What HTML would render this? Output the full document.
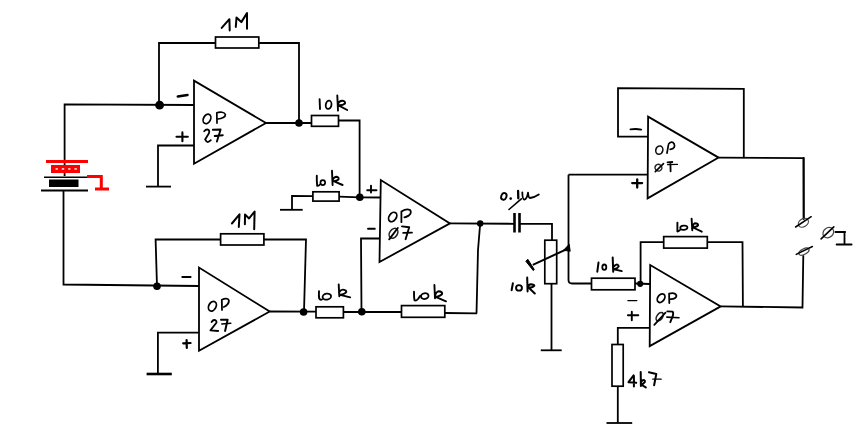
<!DOCTYPE html>
<html><head><meta charset="utf-8"><style>
html,body{margin:0;padding:0;background:#fff;width:856px;height:437px;overflow:hidden}
svg{display:block}
</style></head><body>
<svg width="856" height="437" viewBox="0 0 856 437"><g fill="none" stroke="#000">
<path d="M64.6,176 L64.6,104.3 L194,105" stroke-width="1.8" />
<path d="M63.5,191 L63.5,284.5 L199,286" stroke-width="1.8" />
<rect x="46" y="160" width="42" height="3" fill="#f00" stroke="none"/>
<rect x="51" y="165" width="29" height="8" fill="#f00" stroke="none"/>
<rect x="55.5" y="168.2" width="2.4" height="1.5" fill="#eee" stroke="none"/>
<rect x="61.8" y="168.2" width="2.4" height="1.5" fill="#eee" stroke="none"/>
<rect x="68.1" y="168.2" width="2.4" height="1.5" fill="#eee" stroke="none"/>
<rect x="74.4" y="168.2" width="2.4" height="1.5" fill="#eee" stroke="none"/>
<path d="M44,177.2 L88,177.2" stroke-width="1.6" />
<rect x="49" y="179.5" width="29.5" height="7.5" fill="#000" stroke="none"/>
<path d="M41,190.5 L88,190.5" stroke-width="1.8" />
<path d="M87,176.6 L101.3,176.6 L101.3,189 M95,189 L109,189" stroke="#f00" stroke-width="3" fill="none"/>
<circle cx="159.6" cy="105.2" r="4.4" fill="#000" stroke="none"/>
<path d="M159,105 L159,43 L215.5,43" stroke-width="1.8" />
<rect x="215.5" y="37" width="43.30000000000001" height="11" stroke-width="1.7"/>
<path d="M258.8,43 L299,43 L299,123" stroke-width="1.8" />
<path d="M194,80.6 L194,163.7 L266,123 Z" stroke-width="1.8" />
<path d="M266,123 L311.5,123" stroke-width="1.8" />
<circle cx="299" cy="123" r="3.8" fill="#000" stroke="none"/>
<rect x="311.5" y="115.5" width="27.0" height="10.799999999999997" stroke-width="1.7"/>
<path d="M338.5,120.5 L359.6,120.5 L359.6,197.5" stroke-width="1.8" />
<path d="M194,145.5 L158,145.5 L158,186.6" stroke-width="1.8" />
<path d="M146,186.6 L171,186.6" stroke-width="1.8" />
<circle cx="157" cy="286.2" r="3.8" fill="#000" stroke="none"/>
<path d="M157,286 L155.6,239.5 L220.6,239.5" stroke-width="1.8" />
<rect x="220.6" y="233.8" width="43.29999999999998" height="11.199999999999989" stroke-width="1.7"/>
<path d="M263.9,239.5 L306,239.5 L304,311.7" stroke-width="1.8" />
<path d="M199,267.5 L199,350.7 L269.7,311.5 Z" stroke-width="1.8" />
<path d="M269.7,311.5 L316,311.7" stroke-width="1.8" />
<circle cx="303.6" cy="312" r="3.8" fill="#000" stroke="none"/>
<rect x="316" y="306.8" width="27.399999999999977" height="11.0" stroke-width="1.7"/>
<path d="M343.4,312 L401.5,312" stroke-width="1.8" />
<circle cx="361.8" cy="311.7" r="3.8" fill="#000" stroke="none"/>
<rect x="401.5" y="305.6" width="43.30000000000001" height="11.699999999999989" stroke-width="1.7"/>
<path d="M444.8,313 L477,313.4" stroke-width="1.8" />
<path d="M476.5,313.4 L478,250 L480.2,223.5" stroke-width="1.8" />
<path d="M199,332.6 L157.9,332.6 L157.9,374" stroke-width="1.8" />
<path d="M146.6,374 L171.8,374" stroke-width="2.6" />
<path d="M380.8,180 L379.5,262 L450,223.4 Z" stroke-width="1.8" />
<path d="M292,209.8 L292,196 L312.9,196.2" stroke-width="1.8" />
<path d="M280,209.8 L302.7,209.8" stroke-width="1.8" />
<rect x="312.9" y="191.8" width="26.200000000000045" height="9.299999999999983" stroke-width="1.7"/>
<path d="M339.1,196.7 L359.8,197.3 L380.8,197.5" stroke-width="1.8" />
<circle cx="359.8" cy="197.3" r="3.8" fill="#000" stroke="none"/>
<path d="M380,238.5 L361,238.5 L361.5,311.7" stroke-width="1.8" />
<path d="M450,223.4 L514.5,223.8" stroke-width="1.8" />
<circle cx="480.2" cy="223.5" r="3.2" fill="#000" stroke="none"/>
<path d="M514.5,213 L514.5,232.5" stroke-width="2.6" />
<path d="M519.5,213 L519.5,232.5" stroke-width="2.6" />
<path d="M519.5,223.8 L552,223.8 L552,240" stroke-width="1.8" />
<rect x="544.8" y="240.2" width="11.900000000000091" height="43.5" stroke-width="1.7"/>
<path d="M551.5,283.7 L551.5,350.3" stroke-width="1.8" />
<path d="M540.8,350.3 L561.7,350.3" stroke-width="1.8" />
<path d="M532.8,264.8 L568.5,248.4" stroke-width="2.0" />
<path d="M525.8,261.2 L527.8,259.2 L534.3,269.6 L533.3,270.6 Z" fill="#000" stroke="#000" stroke-width="1"/>
<path d="M563.5,250.3 L569.2,244.3 L570.2,251.2 Z" fill="#000" stroke="#000" stroke-width="1"/>
<path d="M568.5,174.7 L568.5,280 Q568.5,283.5 572,283.5 L591.5,283.5" stroke-width="1.8" />
<path d="M648.1,116.6 L647.6,198.4 L718.6,157.6 Z" stroke-width="1.8" />
<path d="M648,136.7 L618,136.7 L618,88.1 L743.8,88.9 L743.8,157.6" stroke-width="1.8" />
<path d="M568.5,174.7 L648,174.7" stroke-width="1.8" />
<path d="M718.6,157.6 L803.5,158.2 L803.7,219.2" stroke-width="1.8" />
<path d="M650.2,265 L649.7,346.1 L720.7,306.4 Z" stroke-width="1.8" />
<rect x="591.5" y="278.2" width="43.5" height="11.600000000000023" stroke-width="1.7"/>
<path d="M635,283.5 L650,284" stroke-width="1.8" />
<circle cx="640.2" cy="283.8" r="3.1" fill="#000" stroke="none"/>
<path d="M640.6,283.5 L640.6,242.2 L663.7,242.2" stroke-width="1.8" />
<rect x="663.7" y="236.6" width="43.59999999999991" height="11.5" stroke-width="1.7"/>
<path d="M707.3,242.2 L742.5,242.2 L742.9,306.4" stroke-width="1.8" />
<path d="M720.7,306.4 L802.5,307.5 L803.3,255.3" stroke-width="1.8" />
<path d="M649,327.8 L617.8,327.8 L617.8,344.5" stroke-width="1.8" />
<rect x="612" y="344.5" width="11.200000000000045" height="41.69999999999999" stroke-width="1.7"/>
<path d="M617.8,386.2 L617.8,423" stroke-width="1.8" />
<path d="M606.5,423 L632.2,423" stroke-width="1.8" />
<path d="M221.7,27.9 L229.4,19.2 L229.7,30.4" stroke-width="2.0" stroke-linecap="round" stroke-linejoin="round"/>
<path d="M235.8,26.9 L236.5,17.6 L241.3,22.1 L247,13.1 L247,28.8" stroke-width="2.0" stroke-linecap="round" stroke-linejoin="round"/>
<path d="M319.6,99.3 L320,109" stroke-width="1.9" stroke-linecap="round" stroke-linejoin="round"/>
<ellipse cx="328.60" cy="104.80" rx="2.85" ry="4.13" transform="rotate(10 328.60 104.80)" stroke="#000" stroke-width="1.8"/>
<path d="M337.3,95.5 L338,110.6 M337.8,104 Q339.5,100.5 342.5,100.8 Q345.5,101.3 345,103.5 Q343,105.5 338.5,105.3 L347.2,110" stroke-width="1.9" stroke-linecap="round" stroke-linejoin="round"/>
<ellipse cx="207" cy="118.9" rx="3.5" ry="5.0" transform="rotate(28 207 118.9)" stroke="#000" stroke-width="1.7"/>
<path d="M217,123.1 L216.8,112.8 C220,111.6 224.5,112 225.4,114.5 C225.6,117 222,118.7 217.7,119" stroke-width="1.7" stroke-linecap="round" stroke-linejoin="round"/>
<path d="M204.2,131.3 Q206,129 208,129.6 Q210.3,130.8 208.5,134 L205.1,139.4 Q206.5,142.3 208,142 Q209.5,141.5 210.8,140.2" stroke-width="1.8" stroke-linecap="round" stroke-linejoin="round"/>
<path d="M212.8,129.8 L220.6,129.5 L216.9,141.5 M214.7,136 L222.8,135.2" stroke-width="1.9" stroke-linecap="round" stroke-linejoin="round"/>
<path d="M231.9,223.5 L239.5,214.3 L238.8,227" stroke-width="2.0" stroke-linecap="round" stroke-linejoin="round"/>
<path d="M244.9,224.2 L245,214.6 L249.1,218.4 L254.6,211.5 L254.2,229.2" stroke-width="2.0" stroke-linecap="round" stroke-linejoin="round"/>
<ellipse cx="212.4" cy="306.2" rx="3.6" ry="5.1" transform="rotate(28 212.4 306.2)" stroke="#000" stroke-width="1.8"/>
<path d="M222,309.9 L221.8,299.8 C225,298.3 228.3,298.2 228.9,300.5 C229.2,303 226.5,306 223.8,307" stroke-width="1.8" stroke-linecap="round" stroke-linejoin="round"/>
<path d="M211.6,322 Q213,319.8 214.5,320 Q217,320.5 216.4,322.8 L210.4,330.4 L218.2,331" stroke-width="1.8" stroke-linecap="round" stroke-linejoin="round"/>
<path d="M221,319.8 L227.6,319.8 L225.1,331" stroke-width="2.0" stroke-linecap="round" stroke-linejoin="round"/>
<path d="M221.8,323.9 L230.8,323.2" stroke-width="1.5" stroke-linecap="round" stroke-linejoin="round"/>
<path d="M316.8,175.8 Q316.6,182 317.2,185.8 Q318.5,186.3 320,184.5" stroke-width="1.9" stroke-linecap="round" stroke-linejoin="round"/>
<ellipse cx="322.80" cy="182.60" rx="2.35" ry="2.55" transform="rotate(0 322.80 182.60)" stroke="#000" stroke-width="1.7"/>
<path d="M332,170.8 L332.6,185 M332.3,180.4 Q334,177 336.5,176.8 Q339.3,177.3 338.5,179.5 Q337,181 333.6,181.2 L342.6,185" stroke-width="1.9" stroke-linecap="round" stroke-linejoin="round"/>
<path d="M319,291.2 Q318.7,296 319.2,298.5 Q320.2,300.3 322,299.5" stroke-width="1.9" stroke-linecap="round" stroke-linejoin="round"/>
<ellipse cx="326.85" cy="296.65" rx="4.28" ry="3.00" transform="rotate(-10 326.85 296.65)" stroke="#000" stroke-width="1.8"/>
<path d="M338.7,284.4 L339.3,296.3 M339,292.5 Q341,289.5 343,289.6 Q346.5,290 346.3,292 Q345,294 340.2,294.8 L350.2,297.3" stroke-width="1.9" stroke-linecap="round" stroke-linejoin="round"/>
<path d="M414,291.8 Q413.9,297.5 414.5,300.3 Q416,301.3 418,299 L420.3,295.7" stroke-width="1.9" stroke-linecap="round" stroke-linejoin="round"/>
<ellipse cx="424.75" cy="296.10" rx="3.77" ry="2.87" transform="rotate(-10 424.75 296.10)" stroke="#000" stroke-width="1.8"/>
<path d="M434.4,285 L435,298.3 M434.8,296 Q436.5,291.5 438.7,291.3 Q442.2,291.5 442.2,293.7 Q441,296 435.6,296.8 L446,301.3" stroke-width="1.9" stroke-linecap="round" stroke-linejoin="round"/>
<ellipse cx="392.7" cy="217" rx="3.5" ry="5.1" transform="rotate(35 392.7 217)" stroke="#000" stroke-width="1.8"/>
<path d="M401.4,222.2 L401.4,211.5 C404,209.8 408,208.8 410,210 C411.5,211.5 411,214 408.7,215.6 C407,216.6 405.5,217.2 404.4,217.4" stroke-width="1.8" stroke-linecap="round" stroke-linejoin="round"/>
<ellipse cx="393.5" cy="233.3" rx="3.8" ry="5.3" transform="rotate(35 393.5 233.3)" stroke="#222" stroke-width="1.6"/>
<path d="M389.2,239.3 L397.8,228" stroke-width="1.9" stroke-linecap="round" stroke-linejoin="round"/>
<path d="M402,226.4 L409.2,227.3 L405.6,239.2" stroke-width="1.9" stroke-linecap="round" stroke-linejoin="round"/>
<path d="M403.2,232.9 L412,232.6" stroke-width="1.8" stroke-linecap="round" stroke-linejoin="round"/>
<ellipse cx="659.3" cy="150.1" rx="3.5" ry="4.2" transform="rotate(15 659.3 150.1)" stroke="#111" stroke-width="1.6"/>
<path d="M667,153.1 L668.4,145 M668.6,144.2 C670,141.6 672.8,141.4 674.2,144 C675.3,146.5 674,148.8 670.2,149.4" stroke-width="1.7" stroke-linecap="round" stroke-linejoin="round"/>
<ellipse cx="658.45" cy="167.70" rx="3.45" ry="3.30" transform="rotate(35 658.45 167.70)" stroke="#222" stroke-width="1.5"/>
<path d="M655.3,171.6 L663.5,163.6" stroke-width="1.6" stroke-linecap="round" stroke-linejoin="round"/>
<path d="M667.5,162.3 L672.3,162 M670.4,162.2 L670.6,171.3" stroke-width="1.8" stroke-linecap="round" stroke-linejoin="round"/>
<path d="M667.5,164.6 L677.5,164.4" stroke-width="1.1" stroke-linecap="round" stroke-linejoin="round"/>
<ellipse cx="661.1" cy="298.2" rx="3.3" ry="4.7" transform="rotate(35 661.1 298.2)" stroke="#000" stroke-width="1.8"/>
<path d="M669.3,303 L669.1,293.6 C672,292.8 675.5,293 676.4,295.5 C676.8,297.5 674.5,299 670.8,299.2" stroke-width="1.8" stroke-linecap="round" stroke-linejoin="round"/>
<ellipse cx="659.7" cy="316.7" rx="2.8" ry="4.8" transform="rotate(35 659.7 316.7)" stroke="#222" stroke-width="1.6"/>
<path d="M654.3,324.8 L665.5,312.7" stroke-width="1.8" stroke-linecap="round" stroke-linejoin="round"/>
<path d="M667.3,311.4 L672.6,311.6 Q673.8,313 672.6,316.4 L670.3,322.2" stroke-width="1.9" stroke-linecap="round" stroke-linejoin="round"/>
<path d="M666.8,317.1 L679,317.8" stroke-width="1.6" stroke-linecap="round" stroke-linejoin="round"/>
<path d="M598.5,262.6 L597.3,271.7" stroke-width="2.0" stroke-linecap="round" stroke-linejoin="round"/>
<ellipse cx="604.30" cy="267.15" rx="2.00" ry="2.65" transform="rotate(0 604.30 267.15)" stroke="#000" stroke-width="1.8"/>
<path d="M612.7,257.5 L613.2,271.7 M613,267.5 Q615,264.4 616.9,264.4 Q618.8,265 618.7,266.4 Q617.5,268.8 614,269.3 L621.8,271.1" stroke-width="2.0" stroke-linecap="round" stroke-linejoin="round"/>
<path d="M677.4,222.6 L677.4,231.4 Q678.5,231.8 680,230" stroke-width="1.9" stroke-linecap="round" stroke-linejoin="round"/>
<ellipse cx="683.85" cy="227.70" rx="3.61" ry="2.13" transform="rotate(-5 683.85 227.70)" stroke="#000" stroke-width="1.7"/>
<path d="M691.6,218.6 L692.3,230.3 M692,228.5 Q693.5,223.5 694.9,223.3 Q698.1,223.5 698.1,225.3 Q697,227 693,227.5 L701.8,231.7" stroke-width="1.9" stroke-linecap="round" stroke-linejoin="round"/>
<path d="M512.9,283.2 L511.6,290.3" stroke-width="2.0" stroke-linecap="round" stroke-linejoin="round"/>
<ellipse cx="519.00" cy="287.90" rx="2.95" ry="2.75" transform="rotate(0 519.00 287.90)" stroke="#000" stroke-width="1.9"/>
<path d="M527.2,277.6 L527.6,291.4 M527.4,288 Q529,284.3 530.6,284.3 Q534.3,284.5 534.3,285.6 Q533,287.5 528.8,287.8 L534.8,293.5" stroke-width="2.0" stroke-linecap="round" stroke-linejoin="round"/>
<path d="M633.6,375.4 L628.5,382.2 L636.2,382.8 M633.9,376 L633.9,386.4" stroke-width="2.0" stroke-linecap="round" stroke-linejoin="round"/>
<path d="M640.7,372 L640.9,386.1 M640.8,382 Q642.5,379.9 643.8,379.9 Q645.3,380.5 644.9,382 Q643.5,384 641,384.5 L645.8,387.4" stroke-width="2.0" stroke-linecap="round" stroke-linejoin="round"/>
<path d="M648.9,372.3 L656.3,374 L654.1,385.2" stroke-width="2.0" stroke-linecap="round" stroke-linejoin="round"/>
<path d="M652.8,379.2 L661.2,379.2" stroke-width="1.3" stroke-linecap="round" stroke-linejoin="round"/>
<ellipse cx="503.85" cy="196.40" rx="2.59" ry="3.44" transform="rotate(20 503.85 196.40)" stroke="#000" stroke-width="1.9"/>
<circle cx="510.7" cy="198.6" r="1.3" fill="#000" stroke="none"/>
<path d="M518.1,191 L518.3,198.3" stroke-width="2.3" stroke-linecap="round" stroke-linejoin="round"/>
<path d="M522.3,192.3 Q522.5,199.6 524.2,199.6 Q527,199.3 528,192.6 Q528.5,198.3 530,198 Q534,197.5 538.8,194.4" stroke-width="1.8" stroke-linecap="round" stroke-linejoin="round"/>
<path d="M521.3,198.8 L509,209.5" stroke-width="1.6" stroke-linecap="round" stroke-linejoin="round"/>
<path d="M177.8,96.6 L187.5,95" stroke-width="2.5" stroke-linecap="round" stroke-linejoin="round"/>
<path d="M176.5,136.8 L187.8,136.8 M182.4,132.4 L182.4,141.2" stroke-width="2.1" stroke-linecap="round" stroke-linejoin="round"/>
<path d="M182.3,277 L190.6,277" stroke-width="1.9" stroke-linecap="round" stroke-linejoin="round"/>
<path d="M183.2,343.3 L190.6,343 M186.6,340 L186.8,348" stroke-width="2.2" stroke-linecap="round" stroke-linejoin="round"/>
<path d="M367.2,190.2 L376.5,190.2 M371,185.6 L371,192.5" stroke-width="1.9" stroke-linecap="round" stroke-linejoin="round"/>
<path d="M368,228.8 L374.8,228.8" stroke-width="1.9" stroke-linecap="round" stroke-linejoin="round"/>
<path d="M630.5,129.4 Q636,128.5 641.2,129.6" stroke-width="1.9" stroke-linecap="round" stroke-linejoin="round"/>
<path d="M632.2,183.1 L642.1,183.1 M637.2,179.4 L637.2,187.6" stroke-width="2.3" stroke-linecap="round" stroke-linejoin="round"/>
<path d="M627.9,300.6 L636.8,300.6" stroke-width="1.4" stroke-linecap="round" stroke-linejoin="round"/>
<path d="M627.9,315.2 L638.3,315.2 M631.8,311.8 L631.8,320.2" stroke-width="1.9" stroke-linecap="round" stroke-linejoin="round"/>
<path d="M803.7,158 L803.7,219" stroke-width="1.8" stroke-linecap="round" stroke-linejoin="round"/>
<ellipse cx="803.35" cy="222.75" rx="5.45" ry="3.96" transform="rotate(-33 803.35 222.75)" stroke="#444" stroke-width="1.2"/>
<path d="M795.6,227 L811.2,216.7" stroke-width="1.5" stroke-linecap="round" stroke-linejoin="round"/>
<ellipse cx="828.30" cy="232.60" rx="5.70" ry="4.80" transform="rotate(-40 828.30 232.60)" stroke="#444" stroke-width="1.2"/>
<path d="M821.1,238.9 L833.8,226.8" stroke-width="1.6" stroke-linecap="round" stroke-linejoin="round"/>
<path d="M835.4,232 L845.2,232 M844.5,232.2 L844.5,243.8 M836.6,244.5 L851.6,244.5" stroke-width="1.8" stroke-linecap="round" stroke-linejoin="round"/>
<ellipse cx="803.95" cy="251.65" rx="5.53" ry="2.74" transform="rotate(-28 803.95 251.65)" stroke="#444" stroke-width="1.2"/>
<path d="M796.2,254.4 L812.4,246.5" stroke-width="1.5" stroke-linecap="round" stroke-linejoin="round"/>
</g></svg>
</body></html>
